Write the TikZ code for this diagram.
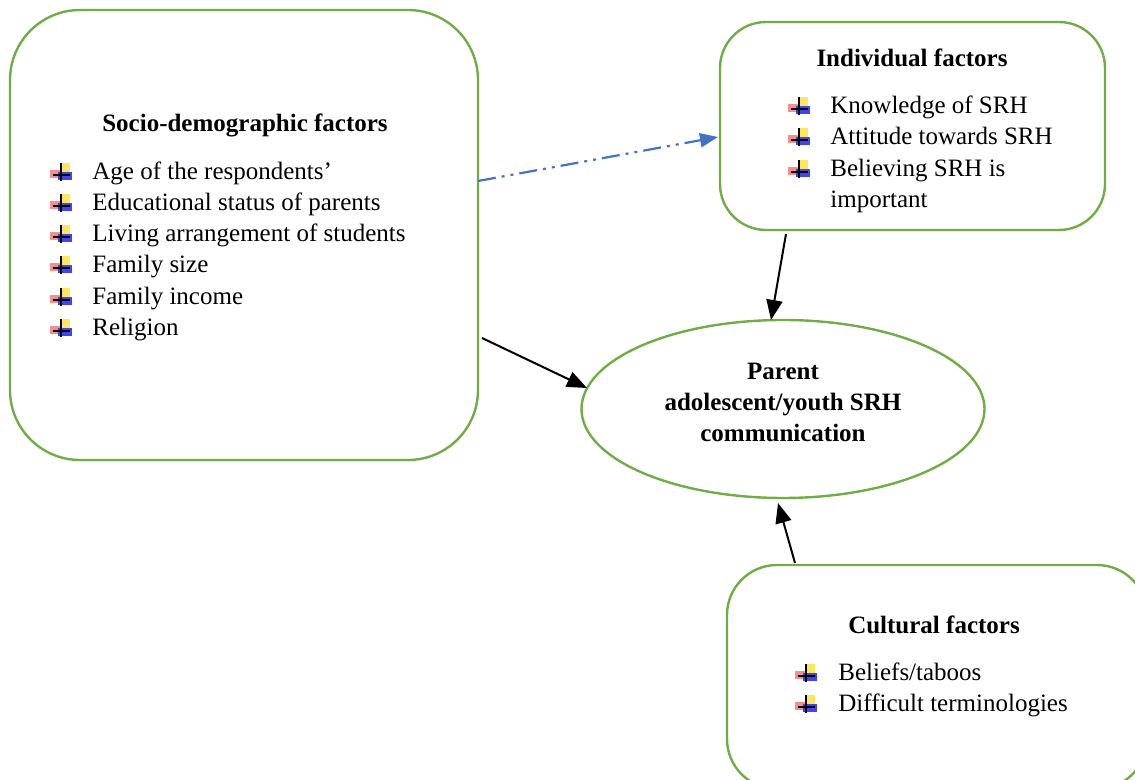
\documentclass[tikz,border=0pt]{standalone}
\usepackage{fontspec}
\setmainfont{Liberation Serif}
\usetikzlibrary{arrows.meta,shapes.geometric}
\definecolor{boxgreen}{HTML}{70AD47}
\definecolor{dashblue}{HTML}{4472C4}
\definecolor{iconyellow}{HTML}{FFE14A}
\definecolor{iconred}{HTML}{F26A6A}
\definecolor{iconblue}{HTML}{2F2FF0}
\tikzset{
  greenbox/.style={draw=boxgreen, line width=1.2pt, fill=white, rectangle},
  txt/.style={inner sep=0pt, anchor=mid west, font=\fontsize{12.5}{15.5}\selectfont},
  ttl/.style={inner sep=0pt, anchor=center, font=\fontsize{12.5}{15.5}\selectfont\bfseries},
  blackarrow/.style={draw=black, line width=1pt, -{Triangle[length=10pt,width=8pt]}},
  bluearrow/.style={draw=dashblue, line width=1.1pt, dash pattern=on 9pt off 3pt on 1.5pt off 3pt on 1.5pt off 3pt, -{Triangle[length=9pt,width=7pt]}},
  bulleticon/.pic={
    \fill[iconyellow, opacity=0.85] (-1,-10) rectangle (9,-1);
    \fill[iconred, opacity=0.75] (-11,-3) rectangle (-1,5);
    \fill[iconblue, opacity=0.9] (-3,-1) rectangle (11,7);
    \draw[black, line width=0.8pt] (0,-10) -- (0,8);
    \draw[black, line width=0.8pt] (-8,2) -- (9,2);
  }
}
\begin{document}
\begin{tikzpicture}[x=0.5pt,y=-0.5pt]
\useasboundingbox (0,0) rectangle (1135,780);
% boxes
\node[greenbox, minimum width=234pt, minimum height=225pt, rounded corners=35pt] (socio) at (244,235) {};
\node[greenbox, minimum width=192.5pt, minimum height=104pt, rounded corners=23pt] (indiv) at (912.5,126) {};
\node[greenbox, minimum width=210pt, minimum height=112pt, rounded corners=25pt] (cult) at (937,677) {};
\node[ellipse, draw=boxgreen, line width=1.2pt, minimum width=201.5pt, minimum height=89pt, inner sep=0pt] (comm) at (783,409) {};
% titles
\node[ttl] (sociot) at (245,125) {Socio-demographic factors};
\node[ttl] (indivt) at (912,58) {Individual factors};
\node[ttl] (cultt) at (934,625) {Cultural factors};
\node[ttl, align=center] (commt) at (783,402) {Parent\\adolescent/youth SRH\\communication};
% socio list
\pic at (61,173) {bulleticon};
\node[txt] (s1) at (92,175) {Age of the respondents’};
\pic at (61,204) {bulleticon};
\node[txt] (s2) at (92,206) {Educational status of parents};
\pic at (61,235) {bulleticon};
\node[txt] (s3) at (92,237) {Living arrangement of students};
\pic at (61,266) {bulleticon};
\node[txt] (s4) at (92,268) {Family size};
\pic at (61,298) {bulleticon};
\node[txt] (s5) at (92,300) {Family income};
\pic at (61,329) {bulleticon};
\node[txt] (s6) at (92,331) {Religion};
% individual list
\pic at (799,107) {bulleticon};
\node[txt] (i1) at (830,109) {Knowledge of SRH};
\pic at (799,138) {bulleticon};
\node[txt] (i2) at (830,140) {Attitude towards SRH};
\pic at (799,170) {bulleticon};
\node[txt] (i3) at (830,172) {Believing SRH is};
\node[txt] (i4) at (830,203) {important};
% cultural list
\pic at (806,674) {bulleticon};
\node[txt] (c1) at (838,676) {Beliefs/taboos};
\pic at (806,705) {bulleticon};
\node[txt] (c2) at (838,707) {Difficult terminologies};
% connector end points
\coordinate (sa) at (478,181);
\coordinate (ia) at (718,137);
\coordinate (ib) at (786,234);
\coordinate (ct) at (771,320);
\coordinate (sb) at (482,338);
\coordinate (cl) at (587,388);
\coordinate (cb) at (795,563);
\coordinate (cbot) at (778,503);
\draw[bluearrow] (sa) -- (ia);
\draw[blackarrow] (ib) -- (ct);
\draw[blackarrow] (sb) -- (cl);
\draw[blackarrow] (cb) -- (cbot);
\end{tikzpicture}
\end{document}
